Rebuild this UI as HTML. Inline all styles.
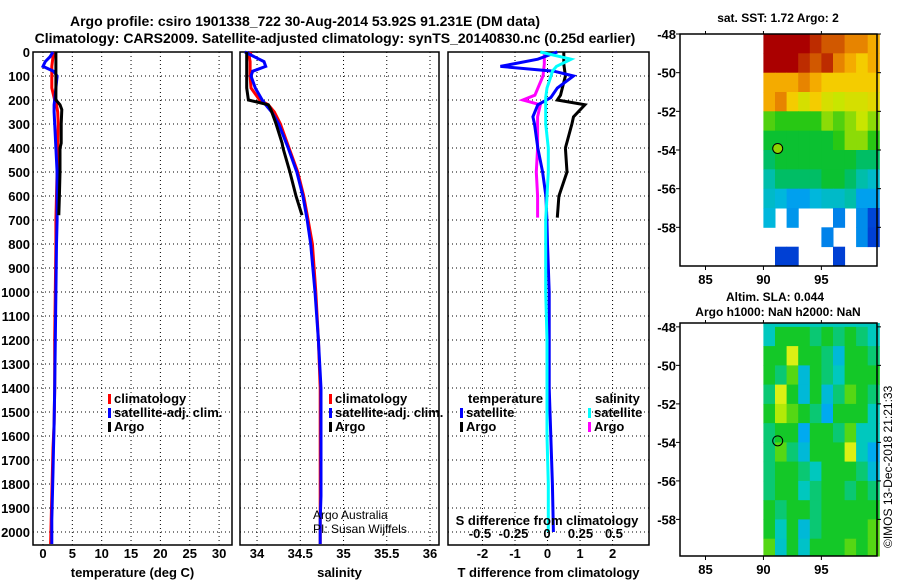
<!DOCTYPE html>
<html><head><meta charset="utf-8"><style>
html,body{margin:0;padding:0;background:#fff;}
svg{display:block;font-family:"Liberation Sans",sans-serif;font-weight:bold;}
</style></head><body>
<svg id="fig" width="900" height="580" xmlns="http://www.w3.org/2000/svg">
<text x="305" y="26" font-size="14" text-anchor="middle">Argo profile: csiro 1901338_722 30-Aug-2014 53.92S 91.231E (DM data)</text>
<text x="335" y="43" font-size="14" text-anchor="middle">Climatology: CARS2009. Satellite-adjusted climatology: synTS_20140830.nc (0.25d earlier)</text>
<text x="778" y="22" font-size="12" text-anchor="middle">sat. SST: 1.72 Argo: 2</text>
<text x="775" y="301" font-size="12" text-anchor="middle">Altim. SLA: 0.044</text>
<text x="778" y="316" font-size="12" text-anchor="middle">Argo h1000: NaN h2000: NaN</text>
<text x="0" y="0" font-size="12" font-weight="normal" transform="translate(892,548) rotate(-90)">©IMOS 13-Dec-2018 21:21:33</text>
<g id="g"></g>
</svg>
<script>
// ---------- data ----------
const depthT = [0,20,40,60,80,100,150,200,220,250,300,400,500,600,700,800,1000,1200,1400,1550,1650,1750,1850,1950,2050];
const tempClim = [1.8,1.7,1.6,1.5,1.5,1.5,1.5,2.0,2.3,2.5,2.6,2.5,2.4,2.3,2.2,2.2,2.1,2.0,2.0,1.9,1.7,1.6,1.5,1.4,1.3];
const tempSat  = [1.7,1.2,0.4,0.0,1.8,2.4,2.2,2.0,1.9,1.9,2.0,2.2,2.4,2.4,2.4,2.3,2.2,2.1,2.0,1.9,1.8,1.7,1.6,1.5,1.5];
const depthArgo = [0,50,100,150,200,220,240,300,380,400,500,600,680];
const tempArgo = [2.2,2.2,2.2,2.2,2.2,2.9,3.2,3.1,3.1,2.9,2.9,2.8,2.7];
const salClim = [33.93,33.91,33.92,33.92,33.92,33.92,33.93,34.03,34.13,34.2,34.27,34.37,34.47,34.54,34.59,34.64,34.68,34.71,34.73,34.73,34.73,34.73,34.73,34.73,34.73];
const salSat  = [33.86,33.97,34.08,34.1,33.95,33.93,33.98,34.06,34.1,34.17,34.25,34.36,34.46,34.53,34.58,34.62,34.67,34.71,34.74,34.74,34.74,34.74,34.74,34.73,34.73];
const salArgo = [33.88,33.88,33.88,33.88,33.9,34.13,34.16,34.22,34.29,34.3,34.38,34.45,34.52];
const depthDiff = [0,30,60,80,100,150,190,220,270,300,400,500,600,700,800,1000,1200,1400,1600,1800,2000];
const dTsat  = [0.3,-0.3,-1.45,0.2,0.8,0.3,0.1,-0.3,-0.45,-0.4,-0.3,-0.15,-0.05,-0.02,0.0,0.05,0.05,0.05,0.1,0.15,0.18];
const dSsat  = [-0.05,0.18,0.07,0.04,0.03,0.0,-0.01,-0.01,-0.01,-0.01,0.01,0.01,0.0,-0.01,-0.01,-0.01,0.0,0.0,0.0,0.01,0.01];
const depthArgoDiff = [0,50,100,180,200,220,270,300,400,500,600,690];
const dTargo = [0.5,0.5,0.55,0.4,0.3,1.15,0.8,0.75,0.55,0.6,0.35,0.3];
const dSargo = [-0.02,-0.02,-0.03,-0.09,-0.18,-0.05,-0.07,-0.07,-0.07,-0.08,-0.07,-0.07];
const tempTicks = [0,5,10,15,20,25,30];
const salTicks = [34,34.5,35,35.5,36];
const dTTicks = [-2,-1,0,1,2];
const dSTicks = [-0.5,-0.25,0,0.25,0.5];
const depthTicks = [0,100,200,300,400,500,600,700,800,900,1000,1100,1200,1300,1400,1500,1600,1700,1800,1900,2000];
const lonTicks = [85,90,95];
const latTicks = [-48,-50,-52,-54,-56,-58];
const sstGrid = [
[7,7,7,7,6.5,6,6,5.5,5.5,5],
[7,7,7,6.5,6,6.5,5.5,5,4.5,5],
[5,5,5,5.5,5,4.5,4.5,4.5,4.5,4.5],
[5,5.5,4.5,4,4.5,4,3.8,4,4,4.2],
[3.2,3,3,3,3,3.5,3.2,3.5,3.8,3.5],
[2.5,2.5,2.5,2.5,2.5,2.5,3,3.5,3.5,3],
[2,2.5,2.5,2.5,2.5,2.5,2.5,2.5,2,2],
[1.5,2,2,2,2,2.5,2.5,2,1.5,1.2],
[1.2,1,0.6,0.6,1,1.2,1.2,1.5,0.6,0.6],
[1,null,0.5,null,null,null,0.3,null,0.4,-0.5],
[null,null,null,null,null,0.3,null,null,0.4,-0.6],
[null,-0.6,-0.6,null,null,null,-0.6,null,null,null]];
const slaGrid = [
[-0.1,0,0,0,-0.05,0,-0.05,0,-0.05,-0.1],
[0,0,0.15,0,0,-0.05,-0.15,0,0,-0.05],
[0,-0.05,0.05,-0.15,0,-0.05,-0.1,0,0,0],
[-0.05,0.15,0,-0.15,0,-0.15,-0.05,0.05,0,-0.05],
[0,0.12,0.05,0,-0.05,-0.2,0,0,0,-0.1],
[-0.05,0,0,-0.2,0,0,-0.05,0.05,-0.1,-0.1],
[-0.05,0.05,-0.05,-0.15,0,0,0,0.15,-0.1,-0.2],
[-0.05,0,0,-0.05,-0.1,0,0,0,-0.05,-0.15],
[-0.05,0,0,-0.1,-0.05,0,0,-0.05,0,-0.05],
[0,-0.05,0,0,-0.05,0,0,0,0,0],
[0,-0.1,0,-0.15,-0.05,0,0,0,0,0.05],
[0.05,-0.12,0,-0.12,0,0,0,0.05,0,0.05]];
const argoLon = 91.231, argoLat = -53.92;

// ---------- helpers ----------
const NS='http://www.w3.org/2000/svg', G=document.getElementById('g');
function el(tag, attrs, parent){const e=document.createElementNS(NS,tag);for(const k in attrs)e.setAttribute(k,attrs[k]);(parent||G).appendChild(e);return e;}
function txt(s,x,y,anchor,size,parent){const e=el('text',{x:x,y:y,'text-anchor':anchor||'middle','font-size':size||12},parent);e.textContent=s;return e;}
const Y0=52, PXD=0.24, YB=545;
const yD=d=>Y0+d*PXD;
const panels=[
 {x0:33,x1:232,v0:-1.7,v1:32.2},
 {x0:240,x1:439,v0:33.803,v1:36.104},
 {x0:448,x1:649,v0:-3.06,v1:3.12}];
function xs(p,v){return p.x0+(v-p.v0)/(p.v1-p.v0)*(p.x1-p.x0);}
const sx=v=>547+v*134;

function line(p,vals,depths,color,name,fn){
  const pts=vals.map((v,i)=>(fn?fn(v):xs(p,v)).toFixed(1)+','+yD(depths[i]).toFixed(1)).join(' ');
  const e=el('polyline',{points:pts,fill:'none',stroke:color,'stroke-width':3,'stroke-linejoin':'miter'});
  
  
}
function frame(p,ticks,name,xlabel){
  const g=el('g',{});
  
  
  depthTicks.forEach(d=>{el('line',{x1:p.x0,x2:p.x1,y1:yD(d),y2:yD(d),stroke:'#000','stroke-dasharray':'1,3','stroke-width':1},g);});
  ticks.forEach(t=>{const x=xs(p,t);el('line',{x1:x,x2:x,y1:Y0,y2:YB,stroke:'#000','stroke-dasharray':'1,3','stroke-width':1},g);
    const l=txt(String(t),x,558,'middle',13,g);
    
    });
  el('rect',{x:p.x0,y:Y0,width:p.x1-p.x0,height:YB-Y0,fill:'none',stroke:'#000','stroke-width':1.5},g);
  const t=txt(xlabel,(p.x0+p.x1)/2,577,'middle',13,g);
  
  
}
function legend(x,y,items,name){
  const g=el('g',{});
  
  
  items.forEach((it,i)=>{el('rect',{x:x,y:y+i*14-9,width:3,height:10,fill:it[1]},g);
    const t=txt(it[0],x+6,y+i*14,'start',13,g);
    
    });
}

// ---------- profile panels ----------
frame(panels[0],tempTicks,'temperature-panel','temperature (deg C)');
frame(panels[1],salTicks,'salinity-panel','salinity');
frame(panels[2],dTTicks,'difference-panel','T difference from climatology');
depthTicks.forEach(d=>{const t=txt(String(d),30,yD(d)+5,'end',13);
  
  });

line(panels[0],tempClim,depthT,'#f00','temp-climatology-line');
line(panels[0],tempSat,depthT,'#00f','temp-satellite-line');
line(panels[0],tempArgo,depthArgo,'#000','temp-argo-line');
line(panels[1],salClim,depthT,'#f00','sal-climatology-line');
line(panels[1],salSat,depthT,'#00f','sal-satellite-line');
line(panels[1],salArgo,depthArgo,'#000','sal-argo-line');
line(panels[2],dTargo,depthArgoDiff,'#000','dT-argo-line');
line(panels[2],dSargo,depthArgoDiff,'#f0f','dS-argo-line',sx);
line(panels[2],dTsat,depthDiff,'#00f','dT-satellite-line');
line(panels[2],dSsat,depthDiff,'#0ff','dS-satellite-line',sx);

legend(108,403,[['climatology','#f00'],['satellite-adj. clim.','#00f'],['Argo','#000']],'temperature-legend');
legend(329,403,[['climatology','#f00'],['satellite-adj. clim.','#00f'],['Argo','#000']],'salinity-legend');
const lt=txt('temperature',468,403,'start',13);


legend(460,417,[['satellite','#00f'],['Argo','#000']],'dT-legend');
const ls=txt('salinity',595,403,'start',13);


legend(588,417,[['satellite','#0ff'],['Argo','#f0f']],'dS-legend');
dSTicks.forEach(v=>{const t=txt(String(v),sx(v),538,'middle',13);
  
  });
const st=txt('S difference from climatology',547,525,'middle',13);


const c1=txt('Argo Australia',313,519,'start',12);c1.setAttribute('font-weight','normal');


const c2=txt('PI: Susan Wijffels',313,533,'start',12);c2.setAttribute('font-weight','normal');



// ---------- maps ----------
function sstColor(v){
  const stops=[[-1,[0,40,200]],[0,[0,100,230]],[0.8,[0,180,240]],[1.5,[0,190,170]],[2.3,[0,190,60]],[3,[40,200,20]],[3.8,[200,230,0]],[4.6,[250,200,0]],[5.3,[240,150,0]],[6.2,[200,70,0]],[7,[170,0,0]]];
  if(v<=stops[0][0])return 'rgb('+stops[0][1]+')';
  for(let i=1;i<stops.length;i++){if(v<=stops[i][0]){const a=stops[i-1],b=stops[i],f=(v-a[0])/(b[0]-a[0]);
    return 'rgb('+a[1].map((c,k)=>Math.round(c+(b[1][k]-c)*f)).join(',')+')';}}
  return 'rgb(170,0,0)';
}
function slaColor(v){
  const stops=[[-0.2,[0,170,240]],[-0.1,[0,200,190]],[0,[20,200,40]],[0.1,[150,230,0]],[0.15,[220,240,20]]];
  if(v<=stops[0][0])return 'rgb('+stops[0][1]+')';
  for(let i=1;i<stops.length;i++){if(v<=stops[i][0]){const a=stops[i-1],b=stops[i],f=(v-a[0])/(b[0]-a[0]);
    return 'rgb('+a[1].map((c,k)=>Math.round(c+(b[1][k]-c)*f)).join(',')+')';}}
  return 'rgb(220,240,20)';
}
function map(m,grid,colorFn,name){
  const lx=v=>m.x0+(v-m.lon0)/(m.lon1-m.lon0)*(m.x1-m.x0);
  const ly=v=>m.y0+(m.lat0-v)/(m.lat0-m.lat1)*(m.y1-m.y0);
  const g=el('g',{});
  
  
  grid.forEach((row,r)=>row.forEach((v,c)=>{if(v===null)return;
    const xa=lx(90+c),xb=lx(91+c),ya=ly(-48-r),yb=ly(-49-r);
    const ytop=r===0?m.y0:ya, ybot=r===grid.length-1?m.y1:yb;
    const cell=el('rect',{x:xa.toFixed(1),y:ytop.toFixed(1),width:(xb-xa+0.5).toFixed(1),height:(ybot-ytop+0.5).toFixed(1),fill:colorFn(v)},g);
    
    }));
  if(name==='sla-map'){const fill=el('rect',{x:lx(90),y:m.y0,width:lx(100)-lx(90),height:ly(-48)-m.y0,fill:colorFn(grid[0][0])},g);}
  el('rect',{x:m.x0,y:m.y0,width:m.x1-m.x0,height:m.y1-m.y0,fill:'none',stroke:'#000','stroke-width':1.5},g);
  lonTicks.forEach(t=>{const x=lx(t);el('line',{x1:x,x2:x,y1:m.y1,y2:m.y1+4,stroke:'#000'},g);el('line',{x1:x,x2:x,y1:m.y0,y2:m.y0-3,stroke:'#000'},g);
    const l=txt(String(t),x,m.y1+18,'middle',13,g);
    
    });
  latTicks.forEach(t=>{const y=ly(t);el('line',{x1:m.x0-4,x2:m.x0,y1:y,y2:y,stroke:'#000'},g);el('line',{x1:m.x1,x2:m.x1+4,y1:y,y2:y,stroke:'#000'},g);
    const l=txt(String(t),m.x0-4,y+5,'end',13,g);
    
    });
  const dot=el('circle',{cx:lx(argoLon),cy:ly(argoLat),r:5,fill:name==='sst-map'?'#8fd400':'none',stroke:'#000','stroke-width':1},g);
  
  
}
map({x0:680,x1:877,y0:34,y1:266,lon0:82.8,lon1:99.8,lat0:-48,lat1:-60},sstGrid,sstColor,'sst-map');
map({x0:680,x1:877,y0:323,y1:556,lon0:82.8,lon1:99.8,lat0:-47.8,lat1:-59.9},slaGrid,slaColor,'sla-map');
</script>
</body></html>
